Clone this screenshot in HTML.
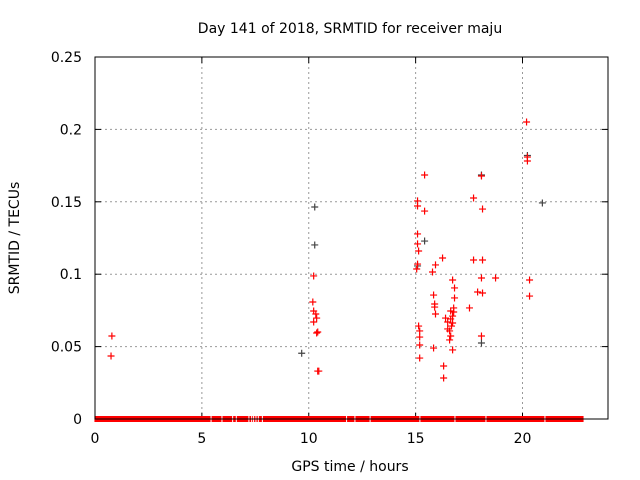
<!DOCTYPE html>
<html><head><meta charset="utf-8"><style>
body{margin:0;background:#fff}
svg{display:block;font-family:"DejaVu Sans","Liberation Sans",sans-serif}
</style></head><body>
<svg id="c" width="640" height="480">
<text x="350" y="33" text-anchor="middle" font-size="14">Day 141 of 2018, SRMTID for receiver maju</text>
<text transform="translate(19,238) rotate(-90)" text-anchor="middle" font-size="14">SRMTID / TECUs</text>
<text x="350" y="471" text-anchor="middle" font-size="14">GPS time / hours</text>
<g id="grid"></g><g id="ticks"></g><g id="marks"></g>
<rect x="95" y="57" width="513" height="362" fill="none" stroke="#000" stroke-width="1"/>
</svg>
<script>
const xTicks=[0,5,10,15,20];
const yTicks=[0,0.05,0.1,0.15,0.2,0.25];
const yTickLabels=["0","0.05","0.1","0.15","0.2","0.25"];
const redHours=[0.79,0.75,10.23,10.19,10.23,10.33,10.37,10.23,10.42,10.37,10.42,10.47,15.05,15.09,15.14,15.09,15.09,15.09,15.09,15.14,15.19,15.19,15.19,15.19,15.42,15.42,15.79,15.93,15.84,15.89,15.89,15.93,15.84,16.26,16.31,16.31,16.40,16.50,16.50,16.59,16.64,16.68,16.73,16.73,16.64,16.78,16.82,16.82,16.73,16.73,16.59,16.64,16.78,17.52,17.71,17.71,17.90,18.08,18.13,18.13,18.08,18.08,18.13,18.74,20.19,20.23,20.23,20.33,20.33];
const redValues=[0.0573,0.0435,0.0988,0.0808,0.0746,0.0725,0.0697,0.0670,0.0601,0.0594,0.0331,0.0331,0.1036,0.1070,0.1160,0.1209,0.1278,0.1471,0.1506,0.0642,0.0608,0.0566,0.0421,0.0511,0.1685,0.1436,0.1015,0.1064,0.0856,0.0794,0.0773,0.0725,0.0490,0.1112,0.0366,0.0283,0.0697,0.0670,0.0622,0.0608,0.0691,0.0642,0.0663,0.0711,0.0746,0.0767,0.0836,0.0905,0.0960,0.0477,0.0546,0.0573,0.0739,0.0767,0.1526,0.1098,0.0877,0.1678,0.1450,0.1098,0.0974,0.0573,0.0870,0.0974,0.2051,0.1809,0.1782,0.0960,0.0849];
const darkHours=[9.67,10.28,10.28,15.09,15.42,20.23,18.08,18.08,20.93];
const darkValues=[0.0454,0.1464,0.1202,0.1057,0.1229,0.1820,0.0525,0.1685,0.1492];
const zeroBreaks=[-0.05,5.43,5.94,6.44,6.61,7.20,7.33,7.42,7.53,7.64,7.83,11.77,12.16,12.87,15.20,16.84,18.29,21.05,22.88];
const NS="http://www.w3.org/2000/svg";
const X0=95,X1=608,Y0=419,Y1=57,XMAX=24,YMAX=0.25;
const sx=h=>X0+h/XMAX*(X1-X0);
const sy=v=>Y0-v/YMAX*(Y0-Y1);
function mk(t,a,p){const e=document.createElementNS(NS,t);for(const k in a)e.setAttribute(k,a[k]);p.appendChild(e);return e;}
const grid=document.getElementById('grid'),ticks=document.getElementById('ticks'),marks=document.getElementById('marks');
xTicks.forEach(t=>{const x=sx(t);
 if(t>0){const g=mk('line',{x1:x,x2:x,y1:Y1,y2:Y0,stroke:'#999','stroke-dasharray':'2,3'},grid);
 
 }
 mk('line',{x1:x,x2:x,y1:Y0,y2:Y0-6,stroke:'#000'},ticks);mk('line',{x1:x,x2:x,y1:Y1,y2:Y1+6,stroke:'#000'},ticks);
 const l=mk('text',{x:x,y:443,'text-anchor':'middle','font-size':14},ticks);l.textContent=t;
 
 });
yTicks.forEach((t,i)=>{const y=sy(t);
 if(t>0&&t<YMAX){const g=mk('line',{x1:X0,x2:X1,y1:y,y2:y,stroke:'#999','stroke-dasharray':'2,3'},grid);
 
 }
 mk('line',{x1:X0,x2:X0+6,y1:y,y2:y,stroke:'#000'},ticks);mk('line',{x1:X1,x2:X1-6,y1:y,y2:y,stroke:'#000'},ticks);
 const l=mk('text',{x:82,y:y+5,'text-anchor':'end','font-size':14},ticks);l.textContent=yTickLabels[i];
 
 });
for(let i=0;i<zeroBreaks.length-1;i++){const a=sx(zeroBreaks[i]),b=sx(zeroBreaks[i+1]);
 const r=mk('rect',{x:a+0.5,y:sy(0)-3,width:Math.max(b-a-1,0.5),height:6,fill:'#f00'},marks);
 
 }
function cross(h,v,col,name){const x=sx(h),y=sy(v);
 const p=mk('path',{d:`M${x-3.5},${y}H${x+3.5}M${x},${y-3.5}V${y+3.5}`,stroke:col,'stroke-width':1.2},marks);
 
 }
darkHours.forEach((h,i)=>cross(h,darkValues[i],'#444','point-dark'));
redHours.forEach((h,i)=>cross(h,redValues[i],'#f00','point-red'));
</script>
</body></html>
